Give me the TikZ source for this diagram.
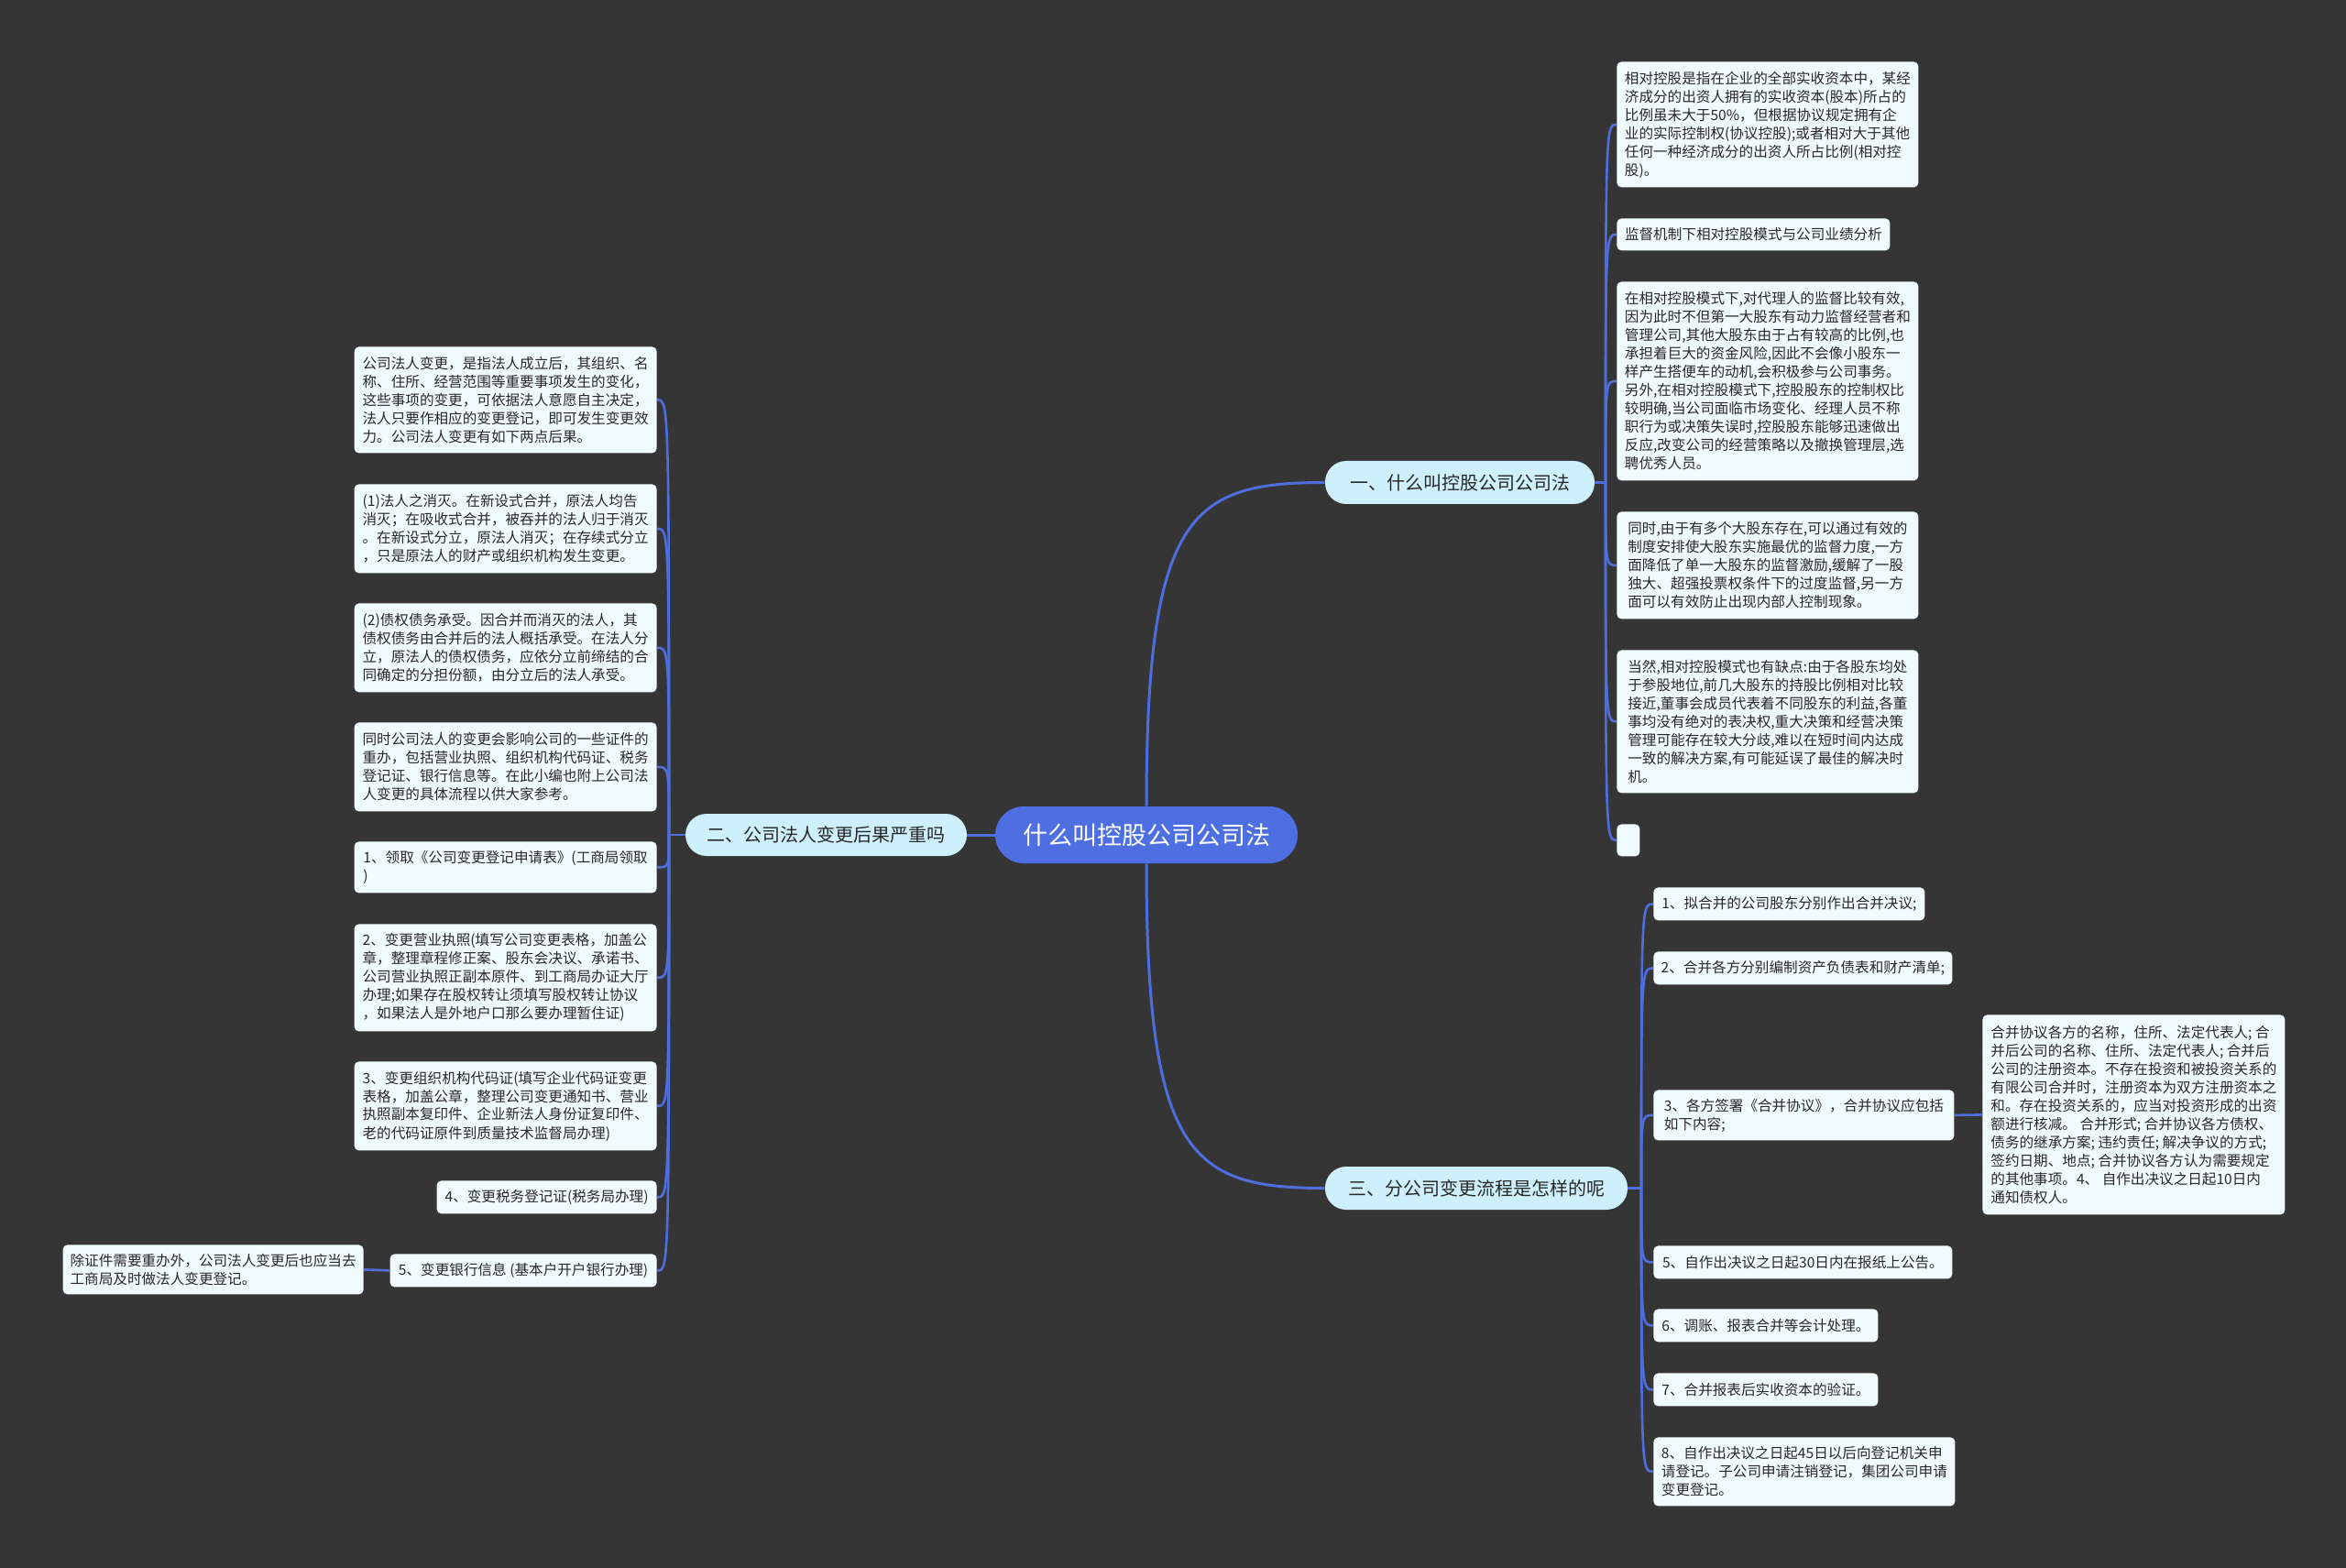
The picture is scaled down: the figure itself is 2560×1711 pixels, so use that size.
\documentclass[tikz,border=0pt]{standalone}
\usepackage{fontspec}
\newfontfamily\cjk{Noto Sans CJK SC}
\definecolor{bgc}{RGB}{54,53,53}
\definecolor{linec}{RGB}{78,110,222}
\definecolor{mainc}{RGB}{78,111,226}
\definecolor{brc}{RGB}{206,240,252}
\definecolor{leafc}{RGB}{240,251,253}
\definecolor{textc}{RGB}{40,40,40}
\tikzset{
  conn/.style={draw=linec, line width=1.3pt},
  mainconn/.style={draw=linec, line width=1.5pt},
  sz/.style 2 args={minimum width=#1, minimum height=#2},
  leaf/.style={fill=leafc, rounded corners=2.5pt, align=left, inner xsep=4pt, inner ysep=0pt,
    text=textc, font=\cjk\fontsize{7.8pt}{10pt}\selectfont},
  branch/.style={fill=brc, rounded corners=11.5pt, inner xsep=0pt, inner ysep=0pt,
    text=textc, font=\cjk\fontsize{10pt}{12pt}\selectfont},
  centre/.style={fill=mainc, rounded corners=15.5pt, inner xsep=0pt, inner ysep=0pt,
    text=white, font=\cjk\fontsize{13.5pt}{16pt}\selectfont}
}
\begin{document}
\begin{tikzpicture}[x=0.5pt,y=-0.5pt]
\useasboundingbox (0,0) rectangle (2560,1711);
\fill[bgc] (0,0) rectangle (2560,1711);

% main nodes
\node[centre, sz={165pt}{31pt}] (c) at (1251,911) {什么叫控股公司公司法};
\node[branch, sz={147pt}{23.5pt}] (br1) at (1593,526.5) {一、什么叫控股公司公司法};
\node[branch, sz={153.5pt}{23pt}] (br2) at (901.5,911) {二、公司法人变更后果严重吗};
\node[branch, sz={165pt}{23.5pt}] (br3) at (1611,1296.5) {三、分公司变更流程是怎样的呢};

% branch 1 leaves
\node[leaf, sz={164.5pt}{68.5pt}, anchor=north west] (a1) at (1764,67) {相对控股是指在企业的全部实收资本中，某经\\济成分的出资人拥有的实收资本(股本)所占的\\比例虽未大于50\%，但根据协议规定拥有企\\业的实际控制权(协议控股);或者相对大于其他\\任何一种经济成分的出资人所占比例(相对控\\股)。};
\node[leaf, sz={149pt}{17.5pt}, anchor=north west] (a2) at (1764,238) {监督机制下相对控股模式与公司业绩分析};
\node[leaf, sz={164.5pt}{108.5pt}, anchor=north west] (a3) at (1764,307) {在相对控股模式下,对代理人的监督比较有效,\\因为此时不但第一大股东有动力监督经营者和\\管理公司,其他大股东由于占有较高的比例,也\\承担着巨大的资金风险,因此不会像小股东一\\样产生搭便车的动机,会积极参与公司事务。\\另外,在相对控股模式下,控股股东的控制权比\\较明确,当公司面临市场变化、经理人员不称\\职行为或决策失误时,控股股东能够迅速做出\\反应,改变公司的经营策略以及撤换管理层,选\\聘优秀人员。};
\node[leaf, sz={164.5pt}{58.5pt}, anchor=north west] (a4) at (1764,558) {同时,由于有多个大股东存在,可以通过有效的\\制度安排使大股东实施最优的监督力度,一方\\面降低了单一大股东的监督激励,缓解了一股\\独大、超强投票权条件下的过度监督,另一方\\面可以有效防止出现内部人控制现象。};
\node[leaf, sz={164.5pt}{78pt}, anchor=north west] (a5) at (1764,709) {当然,相对控股模式也有缺点:由于各股东均处\\于参股地位,前几大股东的持股比例相对比较\\接近,董事会成员代表着不同股东的利益,各董\\事均没有绝对的表决权,重大决策和经营决策\\管理可能存在较大分歧,难以在短时间内达成\\一致的解决方案,有可能延误了最佳的解决时\\机。};
\node[leaf, sz={12.5pt}{17.5pt}, inner xsep=0pt, anchor=north west] (a6) at (1764,899) {};

% branch 2 leaves
\node[leaf, sz={165pt}{58pt}, anchor=north east] (b1) at (717,378) {公司法人变更，是指法人成立后，其组织、名\\称、住所、经营范围等重要事项发生的变化，\\这些事项的变更，可依据法人意愿自主决定，\\法人只要作相应的变更登记，即可发生变更效\\力。公司法人变更有如下两点后果。};
\node[leaf, sz={165pt}{48.5pt}, anchor=north east] (b2) at (717,528) {(1)法人之消灭。在新设式合并，原法人均告\\消灭；在吸收式合并，被吞并的法人归于消灭\\。在新设式分立，原法人消灭；在存续式分立\\，只是原法人的财产或组织机构发生变更。};
\node[leaf, sz={165pt}{48.5pt}, anchor=north east] (b3) at (717,658) {(2)债权债务承受。因合并而消灭的法人，其\\债权债务由合并后的法人概括承受。在法人分\\立，原法人的债权债务，应依分立前缔结的合\\同确定的分担份额，由分立后的法人承受。};
\node[leaf, sz={165pt}{48.5pt}, anchor=north east] (b4) at (717,788) {同时公司法人的变更会影响公司的一些证件的\\重办，包括营业执照、组织机构代码证、税务\\登记证、银行信息等。在此小编也附上公司法\\人变更的具体流程以供大家参考。};
\node[leaf, sz={165pt}{28pt}, anchor=north east] (b5) at (717,918) {1、领取《公司变更登记申请表》(工商局领取\\)};
\node[leaf, sz={165pt}{58.5pt}, anchor=north east] (b6) at (717,1008) {2、变更营业执照(填写公司变更表格，加盖公\\章，整理章程修正案、股东会决议、承诺书、\\公司营业执照正副本原件、到工商局办证大厅\\办理;如果存在股权转让须填写股权转让协议\\，如果法人是外地户口那么要办理暂住证)};
\node[leaf, sz={165pt}{48.5pt}, anchor=north east] (b7) at (717,1158) {3、变更组织机构代码证(填写企业代码证变更\\表格，加盖公章，整理公司变更通知书、营业\\执照副本复印件、企业新法人身份证复印件、\\老的代码证原件到质量技术监督局办理)};
\node[leaf, sz={120pt}{18pt}, anchor=north east] (b8) at (717,1288) {4、变更税务登记证(税务局办理)};
\node[leaf, sz={145.5pt}{18pt}, anchor=north east] (b9) at (717,1368) {5、变更银行信息 (基本户开户银行办理)};
\node[leaf, sz={164pt}{27pt}, anchor=north east] (b9x) at (397,1358) {除证件需要重办外，公司法人变更后也应当去\\工商局及时做法人变更登记。};

% branch 3 leaves
\node[leaf, sz={148pt}{18pt}, anchor=north west] (d1) at (1804,968) {1、拟合并的公司股东分别作出合并决议;};
\node[leaf, sz={163pt}{18pt}, anchor=north west] (d2) at (1804,1038) {2、合并各方分别编制资产负债表和财产清单;};
\node[leaf, sz={164pt}{27.5pt}, anchor=north west] (d3) at (1804,1189) {3、各方签署《合并协议》，合并协议应包括\\如下内容;};
\node[leaf, sz={165pt}{109pt}, anchor=north west] (d3x) at (2163,1107) {合并协议各方的名称，住所、法定代表人; 合\\并后公司的名称、住所、法定代表人; 合并后\\公司的注册资本。不存在投资和被投资关系的\\有限公司合并时，注册资本为双方注册资本之\\和。存在投资关系的，应当对投资形成的出资\\额进行核减。 合并形式; 合并协议各方债权、\\债务的继承方案; 违约责任; 解决争议的方式;\\签约日期、地点; 合并协议各方认为需要规定\\的其他事项。4、 自作出决议之日起10日内\\通知债权人。};
\node[leaf, sz={163pt}{18pt}, anchor=north west] (d5) at (1804,1359) {5、自作出决议之日起30日内在报纸上公告。};
\node[leaf, sz={122.5pt}{18pt}, anchor=north west] (d6) at (1804,1428) {6、调账、报表合并等会计处理。};
\node[leaf, sz={122.5pt}{18pt}, anchor=north west] (d7) at (1804,1498) {7、合并报表后实收资本的验证。};
\node[leaf, sz={164.5pt}{37.5pt}, anchor=north west] (d8) at (1804,1568) {8、自作出决议之日起45日以后向登记机关申\\请登记。子公司申请注销登记，集团公司申请\\变更登记。};

% spine points
\coordinate (s1) at (1752,526.5);
\coordinate (s2) at (730,911);
\coordinate (s3) at (1791,1296.5);

% main connectors
\draw[mainconn] (c.north) .. controls (1251,560) and (1300,526.5) .. (br1.west);
\draw[mainconn] (c.south) .. controls (1251,1262) and (1300,1296.5) .. (br3.west);
\draw[mainconn] (c.west) -- (br2.east);

% branch 1 connectors
\draw[conn] (br1.east) -- (s1);
\foreach \n in {a1,a2,a3,a4,a5,a6}
  \draw[conn] (s1) .. controls (s1 |- \n.west) .. (\n.west);

% branch 2 connectors
\draw[conn] (br2.west) -- (s2);
\foreach \n in {b1,b2,b3,b4,b5,b6,b7,b8,b9}
  \draw[conn] (s2) .. controls (s2 |- \n.east) .. (\n.east);
\draw[conn] (b9.west) -- (b9x.east);

% branch 3 connectors
\draw[conn] (br3.east) -- (s3);
\foreach \n in {d1,d2,d3,d5,d6,d7,d8}
  \draw[conn] (s3) .. controls (s3 |- \n.west) .. (\n.west);
\draw[conn] (d3.east) -- (d3x.west);
\end{tikzpicture}
\end{document}
